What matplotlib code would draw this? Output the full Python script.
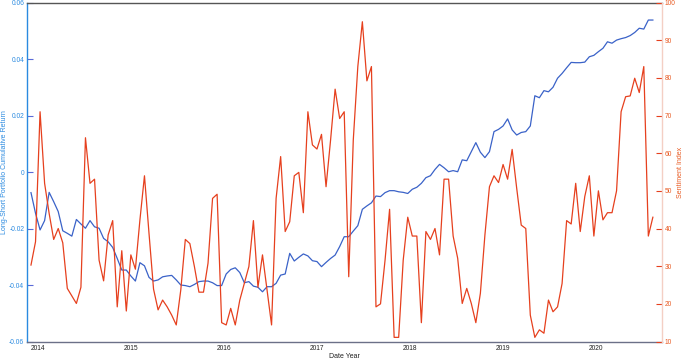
import numpy as np
import matplotlib
matplotlib.use("Agg")
import matplotlib.pyplot as plt

# ===== DATA =====
# sampling dates (fractional years), one value of each series per date
start_year = 2013.929
end_year = 2020.616
n_points = 138

portfolio_return = [
    -0.0073, -0.0146, -0.0205, -0.0172, -0.0072, -0.0105, -0.0140, -0.0208, -0.0217, -0.0227,
    -0.0168, -0.0184, -0.0199, -0.0172, -0.0194, -0.0199, -0.0235, -0.0247, -0.0267, -0.0306,
    -0.0347, -0.0347, -0.0368, -0.0386, -0.0321, -0.0332, -0.0373, -0.0386,
    -0.0382, -0.0371, -0.0368, -0.0366, -0.0382, -0.0400, -0.0402, -0.0406, -0.0398, -0.0388,
    -0.0386, -0.0386, -0.0392, -0.0402, -0.0402, -0.0361, -0.0345, -0.0339, -0.0356, -0.0392,
    -0.0388, -0.0404, -0.0408, -0.0424, -0.0406, -0.0406,
    -0.0394, -0.0365, -0.0361, -0.0288, -0.0315, -0.0302, -0.0290, -0.0297, -0.0314, -0.0317,
    -0.0335, -0.0320, -0.0306, -0.0294, -0.0264, -0.0229, -0.0229, -0.0209, -0.0190, -0.0132,
    -0.0120, -0.0109, -0.0085, -0.0087, -0.0073, -0.0066, -0.0066, -0.0070,
    -0.0072, -0.0076, -0.0061, -0.0054, -0.0040, -0.0020, -0.0013, 0.0009, 0.0027, 0.0015,
    0.0001, 0.0005, 0.0001, 0.0043, 0.0040, 0.0072, 0.0104, 0.0070, 0.0051, 0.0072,
    0.0143, 0.0151, 0.0163, 0.0188,
    0.0149, 0.0131, 0.0140, 0.0143, 0.0163, 0.0270, 0.0263, 0.0288, 0.0284, 0.0300,
    0.0332, 0.0349, 0.0369, 0.0388, 0.0387, 0.0387, 0.0389, 0.0408, 0.0413, 0.0426,
    0.0438, 0.0461, 0.0456, 0.0467, 0.0472, 0.0476, 0.0483, 0.0494, 0.0509, 0.0506,
    0.0538, 0.0538,
]

sentiment_index = [
    30.3, 36.5, 71.0, 52.0, 44.0, 37.1, 40.0, 36.2, 24.1, 22.1,
    20.1, 24.4, 64.1, 52.0, 53.1, 31.6, 26.1, 38.3, 42.1, 19.2,
    34.1, 18.1, 33.0, 29.2, 42.3, 54.0, 38.7, 23.9,
    18.4, 21.0, 19.2, 17.0, 14.4, 23.7, 37.1, 36.0, 29.9, 23.1,
    23.1, 30.8, 48.0, 49.1, 15.0, 14.4, 18.8, 14.4, 21.0, 25.4,
    29.9, 42.1, 24.4, 33.0, 23.7, 14.4,
    48.0, 59.1, 39.2, 41.8, 54.0, 54.9, 44.2, 71.0, 62.2, 61.1,
    65.0, 51.1, 63.5, 77.0, 69.2, 71.0, 27.2, 63.5, 83.0, 94.9,
    79.2, 83.0, 19.2, 20.0, 31.6, 45.1, 11.1, 11.1,
    31.6, 43.0, 38.0, 38.0, 15.0, 39.2, 37.1, 40.0, 33.0, 53.1,
    53.1, 38.0, 32.1, 20.1, 24.1, 20.1, 15.0, 22.8, 38.3, 51.1,
    54.0, 52.2, 57.0, 53.1,
    61.0, 50.7, 40.9, 40.0, 17.0, 11.1, 13.1, 12.2, 21.0, 17.9,
    19.2, 25.4, 42.1, 41.2, 52.0, 39.2, 48.5, 54.0, 38.0, 50.0,
    42.3, 44.2, 44.2, 50.0, 71.0, 75.0, 75.2, 79.9, 76.1, 83.0,
    38.0, 43.0,
]

year_labels = ["2014", "2015", "2016", "2017", "2018", "2019", "2020"]
left_ticks = [-0.06, -0.04, -0.02, 0, 0.02, 0.04, 0.06]
left_tick_labels = ["-0.06", "-0.04", "-0.02", "0", "0.02", "0.04", "0.06"]
right_ticks = [10, 20, 30, 40, 50, 60, 70, 80, 90, 100]

dates = np.linspace(start_year, end_year, n_points)

# ===== STYLE =====
plt.rcParams["font.family"] = ["Liberation Sans", "DejaVu Sans"]
BLUE_TEXT = "#2a8ae0"
BLUE_LINE = "#3a62c8"
RED_LINE = "#e6401e"
RED_TEXT = "#e85a22"

fig = plt.figure(figsize=(6.85, 3.61), dpi=100)
ax = fig.add_axes([0.0394, 0.054, 0.9270, 0.939])
ax2 = ax.twinx()

# ============================
# LEFT AXIS: CUMULATIVE RETURN
# ============================
ax.plot(dates, portfolio_return, color=BLUE_LINE, linewidth=0.9)
ax.set_ylim(-0.06, 0.06)
ax.set_yticks(left_ticks)
ax.set_yticklabels(left_tick_labels)
ax.tick_params(axis="y", direction="in", length=4, width=0.8, color="#5a6ad8",
               labelcolor=BLUE_TEXT, labelsize=4.8, pad=2)
ax.set_ylabel("Long-Short Portfolio Cumulative Return", color=BLUE_TEXT, fontsize=5.0)
ax.yaxis.set_label_coords(-0.030, 0.5)

ax.set_xlim(2013.886, 2020.714)
ax.set_xticks([int(y) for y in year_labels])
ax.set_xticklabels(year_labels)
ax.tick_params(axis="x", length=0, labelsize=4.8, labelcolor="#222222", pad=2.5)
ax.set_xlabel("Date Year", fontsize=5.0, color="#222222")
ax.xaxis.set_label_coords(0.5, -0.035)

ax.spines["left"].set_color(BLUE_TEXT)
ax.spines["left"].set_linewidth(1.0)
ax.spines["top"].set_color("#555555")
ax.spines["top"].set_linewidth(1.0)
ax.spines["bottom"].set_color("#6b7088")
ax.spines["bottom"].set_linewidth(1.0)
ax.spines["right"].set_visible(False)

# ============================
# RIGHT AXIS: SENTIMENT INDEX
# ============================
ax2.plot(dates, sentiment_index, color=RED_LINE, linewidth=0.9)
ax2.set_ylim(10, 100)
ax2.set_yticks(right_ticks)
ax2.tick_params(axis="y", direction="in", length=4, width=0.8, color=RED_LINE,
                labelcolor=RED_TEXT, labelsize=4.8, pad=2)
ax2.set_ylabel("Sentiment Index", color=RED_TEXT, fontsize=5.0)
ax2.yaxis.set_label_coords(1.0236, 0.5)
ax2.spines["right"].set_color("#f4cfc4")
ax2.spines["right"].set_linewidth(1.0)
for side in ["left", "top", "bottom"]:
    ax2.spines[side].set_visible(False)

fig.savefig("out.png", dpi=100)
plt.close(fig)
